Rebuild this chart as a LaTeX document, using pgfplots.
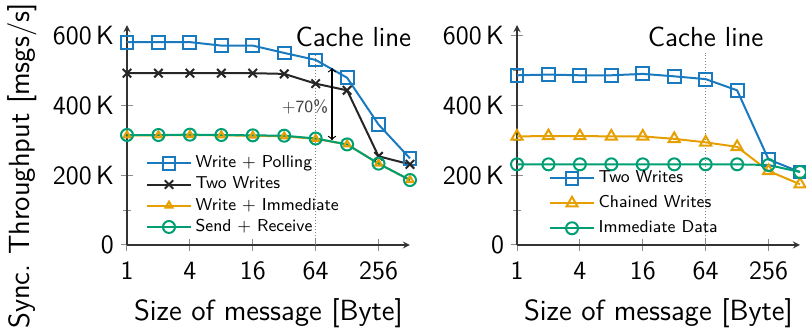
\documentclass[border=0pt]{standalone}
\usepackage{pgfplots}
\pgfplotsset{compat=1.18}
\renewcommand{\familydefault}{\sfdefault}
\definecolor{cblue}{HTML}{1A7AC0}
\definecolor{corange}{HTML}{E69F00}
\definecolor{cgreen}{HTML}{009E73}
\pgfplotsset{
  myaxis/.style={
    scale only axis, width=141.5pt, height=110pt,
    xmin=0, xmax=9, ymin=0, ymax=630000,
    axis lines=left, clip=false,
    axis line style={black!80, line width=0.6pt},
    xtick={0,2,4,6,8}, xticklabels={1,4,16,64,256},
    ytick={0,200000,400000,600000}, yticklabels={0,200\,K,400\,K,600\,K},
    minor ytick={100000,300000,500000},
    scaled y ticks=false,
    tick align=center, tick style={black!45, line width=0.5pt},
    major tick length=6pt, minor tick length=4pt,
    /pgf/number format/assume math mode=true,
    tick label style={font=\fontsize{13.2}{15}\selectfont},
    xticklabel style={yshift=-2pt},
    label style={font=\fontsize{14.6}{17}\selectfont},
    xlabel={Size of message [Byte]},
    xlabel style={at={(axis description cs:0.5,-0.309)}, anchor=center},
    legend cell align=left,
    legend style={draw=none, fill=none, font=\fontsize{8.6}{10}\selectfont, inner sep=1pt},
    legend image code/.code={\draw[mark repeat=2,mark phase=2] plot coordinates {(0cm,0cm) (0.38cm,0cm) (0.76cm,0cm)};},
    every axis plot/.append style={line width=1pt},
  },
}
\begin{document}
\begin{tikzpicture}
\useasboundingbox (-63.5pt,-45pt) rectangle (339.5pt,122.5pt);
\begin{axis}[myaxis, at={(0,0)}, anchor=south west,
  ylabel={Sync.\ Throughput [msgs/s]},
  ylabel style={at={(axis description cs:-0.371,0.359)}, anchor=center},
  legend style={at={(0.06,0.018)}, anchor=south west, row sep=-0.9pt}]
\draw[black!50, densely dotted, line width=0.5pt] (axis cs:6,0) -- (axis cs:6,550000);
\addplot[cblue, mark=square, mark size=3.2pt, mark options={solid}] coordinates {
(0,581000) (1,581000) (2,581000) (3,571000) (4,571000) (5,550000) (6,530000) (7,479000) (8,345000) (9,248000)};
\addlegendentry{Write + Polling}
\addplot[black!85, mark=x, mark size=3pt] coordinates {
(0,492000) (1,492000) (2,492000) (3,492000) (4,492000) (5,490000) (6,462000) (7,443000) (8,254000) (9,231000)};
\addlegendentry{Two Writes}
\addplot[corange, mark=triangle, mark size=2pt] coordinates {
(0,314000) (1,314000) (2,315000) (3,314000) (4,313000) (5,311000) (6,304000) (7,288000) (8,233000) (9,186000)};
\addlegendentry{Write + Immediate}
\addplot[cgreen, mark=o, mark size=3pt] coordinates {
(0,315000) (1,315000) (2,316000) (3,315000) (4,314000) (5,313000) (6,305000) (7,288000) (8,233000) (9,186000)};
\addlegendentry{Send + Receive}
\draw[<->, black, line width=0.6pt] (axis cs:6.52,507000) -- (axis cs:6.52,300000);
\node[font=\fontsize{8.6}{10}\selectfont, text=black!75] at (axis cs:5.66,395000) {+70\%};
\node[font=\fontsize{13.8}{15}\selectfont, anchor=east, inner sep=0pt] at (axis cs:9.05,595000) {Cache line};
\end{axis}
\begin{axis}[myaxis, at={(195pt,0)}, anchor=south west,
  legend style={at={(0.106,0.013)}, anchor=south west, row sep=1pt}]
\draw[black!50, densely dotted, line width=0.5pt] (axis cs:6,0) -- (axis cs:6,550000);
\addplot[cblue, mark=square, mark size=3.2pt] coordinates {
(0,486000) (1,488000) (2,486000) (3,486000) (4,490000) (5,483000) (6,475000) (7,443000) (8,245000) (9,209000)};
\addlegendentry{Two Writes}
\addplot[corange, mark=triangle, mark size=3.2pt] coordinates {
(0,311000) (1,312000) (2,312000) (3,311000) (4,311000) (5,304000) (6,294000) (7,281000) (8,212000) (9,174000)};
\addlegendentry{Chained Writes}
\addplot[cgreen, mark=o, mark size=3pt] coordinates {
(0,231000) (1,231000) (2,231000) (3,231000) (4,231000) (5,231000) (6,231000) (7,231000) (8,229000) (9,209000)};
\addlegendentry{Immediate Data}
\node[font=\fontsize{13.8}{15}\selectfont, inner sep=0pt] at (axis cs:6,595000) {Cache line};
\end{axis}
\end{tikzpicture}
\end{document}
